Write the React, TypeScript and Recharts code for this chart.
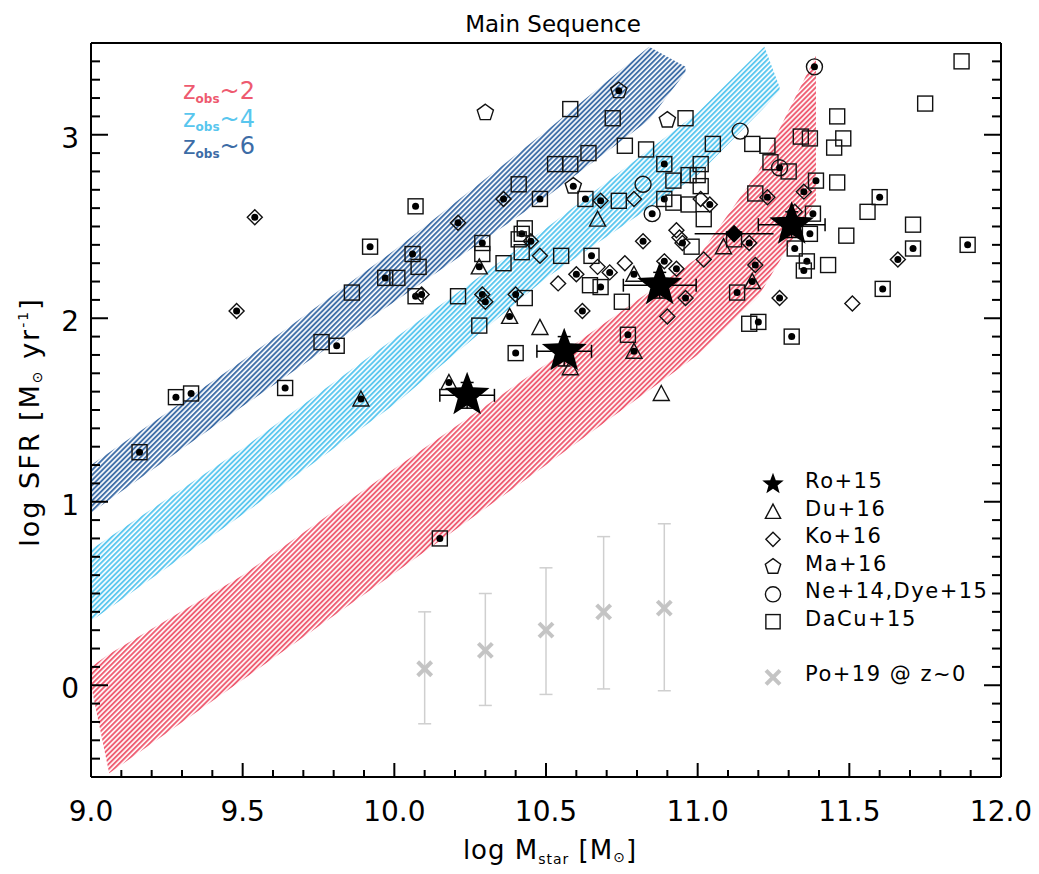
import React from "react";
import { Area, ComposedChart, ErrorBar, Scatter, XAxis, YAxis } from "recharts";

const FONT = "'DejaVu Sans', sans-serif";
const RED = "#ee5a6f";
const LIGHT = "#58c6ee";
const DARK = "#3c6ca6";
const GREY = "#c4c4c4";

// axis ticks
const xMajorTicks = [9.0, 9.5, 10.0, 10.5, 11.0, 11.5, 12.0];
const xTickLabels = ["9.0", "9.5", "10.0", "10.5", "11.0", "11.5", "12.0"];
const yMajorTicks = [0, 1, 2, 3];
const yTickLabels = ["0", "1", "2", "3"];
const xMinorTicks = Array.from({ length: 31 }, (_, i) => (90 + i) / 10);
const yMinorTicks = Array.from({ length: 41 }, (_, i) => (i - 5) / 10);

// model bands: [log M, low, high]
const bandZ2 = [
  [9.0, 0.0, 0.1],
  [9.06, -0.48, 0.17],
  [9.5, 0.03, 0.6],
  [10.0, 0.61, 1.18],
  [10.5, 1.2, 1.75],
  [11.0, 1.8, 2.33],
  [11.2, 2.12, 2.8],
  [11.39, 2.64, 3.43],
];
const bandZ4 = [
  [9.0, 0.35, 0.74],
  [9.5, 0.93, 1.29],
  [10.0, 1.53, 1.89],
  [10.5, 2.22, 2.49],
  [11.0, 2.78, 3.12],
  [11.22, 3.15, 3.48],
  [11.27, 3.24, 3.26],
];
const bandZ6 = [
  [9.0, 0.94, 1.2],
  [9.5, 1.52, 1.77],
  [10.0, 2.09, 2.37],
  [10.5, 2.66, 3.02],
  [10.84, 3.08, 3.48],
  [10.96, 3.34, 3.37],
];

// samples: [log M, log SFR, dot]
const daCu15 = [
  [9.92, 2.39, 1], [9.97, 2.22, 1], [10.01, 2.22, 0], [10.07, 2.61, 1], [9.86, 2.14, 0],
  [10.06, 2.35, 1], [10.08, 2.28, 0], [9.76, 1.87, 0], [9.81, 1.85, 1], [9.64, 1.62, 1],
  [9.28, 1.57, 1], [9.33, 1.59, 1], [9.16, 1.27, 1], [10.07, 2.12, 1], [10.21, 2.12, 0],
  [10.43, 2.11, 0], [10.28, 1.96, 0], [10.4, 1.81, 1], [10.75, 2.09, 0], [10.68, 2.17, 1],
  [10.77, 1.91, 1], [10.58, 3.14, 0], [10.72, 3.09, 0], [10.96, 3.09, 0], [10.76, 2.94, 0],
  [10.83, 2.92, 0], [11.05, 2.95, 0], [10.64, 2.9, 0], [10.53, 2.84, 0], [10.58, 2.84, 0],
  [10.41, 2.73, 0], [10.89, 2.84, 1], [11.01, 2.84, 0], [10.92, 2.75, 0], [10.97, 2.78, 0],
  [11.0, 2.78, 0], [11.01, 2.72, 0], [10.48, 2.65, 1], [10.63, 2.65, 1], [10.74, 2.64, 0],
  [10.89, 2.65, 1], [10.92, 2.63, 0], [10.97, 2.62, 0], [11.02, 2.54, 0], [10.29, 2.41, 1],
  [10.29, 2.35, 0], [10.36, 2.3, 0], [10.42, 2.46, 1], [10.43, 2.49, 0], [10.41, 2.43, 0],
  [10.42, 2.36, 0], [10.55, 2.34, 0], [10.65, 2.34, 1], [10.645, 2.18, 0], [10.98, 2.39, 0],
  [11.87, 3.4, 0], [11.75, 3.17, 0], [11.46, 3.1, 0], [11.48, 2.98, 0], [11.45, 2.93, 0],
  [11.34, 2.99, 0], [11.37, 2.98, 0], [11.18, 2.95, 0], [11.23, 2.94, 0], [11.24, 2.85, 0],
  [11.3, 2.8, 0], [11.39, 2.75, 1], [11.46, 2.74, 0], [11.19, 2.68, 0], [11.6, 2.66, 1],
  [11.56, 2.58, 0], [11.38, 2.57, 1], [11.37, 2.46, 1], [11.49, 2.45, 0], [11.71, 2.51, 0],
  [11.71, 2.38, 1], [11.89, 2.4, 1], [11.32, 2.38, 1], [11.36, 2.31, 1], [11.35, 2.26, 1],
  [11.43, 2.29, 0], [11.12, 2.43, 0], [11.13, 2.14, 1], [11.61, 2.16, 1], [11.17, 1.97, 0],
  [11.2, 1.98, 1], [11.31, 1.9, 1], [10.15, 0.8, 1],
];
const ko16 = [
  [9.54, 2.55, 1], [9.48, 2.04, 1], [10.09, 2.13, 1], [10.29, 2.13, 1], [10.3, 2.09, 1],
  [10.4, 2.13, 1], [10.62, 2.04, 1], [10.9, 2.01, 0], [10.96, 2.11, 1], [10.68, 2.64, 1],
  [10.79, 2.65, 0], [11.01, 2.65, 0], [11.04, 2.62, 1], [10.36, 2.65, 1], [10.21, 2.52, 1],
  [10.45, 2.42, 1], [10.48, 2.34, 0], [10.67, 2.28, 0], [10.71, 2.25, 1], [10.76, 2.3, 0],
  [10.6, 2.24, 1], [10.54, 2.19, 0], [10.93, 2.48, 0], [10.94, 2.44, 0], [10.95, 2.41, 1],
  [10.89, 2.31, 1], [11.02, 2.32, 0], [10.93, 2.27, 1], [10.82, 2.42, 1], [11.35, 2.69, 1],
  [11.23, 2.66, 1], [11.32, 2.58, 0], [11.66, 2.32, 1], [11.17, 2.41, 1], [11.19, 2.29, 1],
  [11.27, 2.11, 1], [11.51, 2.08, 0],
];
const du16 = [
  [9.89, 1.56, 1], [10.38, 2.01, 1], [10.48, 1.95, 0], [10.18, 1.65, 1], [10.58, 1.73, 0],
  [10.79, 1.82, 1], [10.88, 1.59, 0], [10.67, 2.54, 0], [10.28, 2.28, 1], [10.79, 2.24, 1],
  [11.085, 2.39, 0], [11.18, 2.2, 1],
];
const ma16 = [[10.74, 3.24, 1], [10.3, 3.12, 0], [10.9, 3.08, 0], [10.59, 2.72, 1]];
const ne14 = [[11.385, 3.37, 1], [11.14, 3.02, 0], [10.82, 2.73, 0], [10.85, 2.57, 1], [11.27, 2.82, 1]];

// Ro+15 with errors
const roM = [10.24, 10.56, 10.875, 11.31];
const roSfr = [1.58, 1.82, 2.18, 2.51];
const roMErr = [0.09, 0.09, 0.12, 0.11];
const roSfrErr = [0.07, 0.08, 0.07, 0.07];

// single filled diamond
const fdM = [11.12];
const fdSfr = [2.46];
const fdMErr = [0.13];

// Po+19 local relation
const poM = [10.1, 10.3, 10.5, 10.69, 10.89];
const poSfr = [0.09, 0.19, 0.3, 0.4, 0.42];
const poLow = [-0.21, -0.11, -0.05, -0.02, -0.03];
const poHigh = [0.4, 0.5, 0.64, 0.81, 0.88];

const toBand = (rows: number[][]) => rows.map(([x, lo, hi]) => ({ x, r: [lo, hi] }));
const toPts = (rows: number[][]) => rows.map(([x, y, d]) => ({ x, y, dot: d === 1 }));

const roData = roM.map((x, i) => ({ x, y: roSfr[i], ex: roMErr[i], ey: roSfrErr[i] }));
const fdData = fdM.map((x, i) => ({ x, y: fdSfr[i], ex: fdMErr[i] }));
const poData = poM.map((x, i) => ({ x, y: poSfr[i], ey: [poSfr[i] - poLow[i], poHigh[i] - poSfr[i]] }));

const majorIndex = (v: number, list: number[]) => list.findIndex((m) => Math.abs(m - v) < 1e-6);

const starPoints = (cx: number, cy: number, R: number, r: number) =>
  Array.from({ length: 10 }, (_, i) => {
    const a = -Math.PI / 2 + (i * Math.PI) / 5;
    const rad = i % 2 === 0 ? R : r;
    return `${cx + rad * Math.cos(a)},${cy + rad * Math.sin(a)}`;
  }).join(" ");

const pentPoints = (cx: number, cy: number, R: number) =>
  Array.from({ length: 5 }, (_, i) => {
    const a = -Math.PI / 2 + (i * 2 * Math.PI) / 5;
    return `${cx + R * Math.cos(a)},${cy + R * Math.sin(a)}`;
  }).join(" ");

const Dot = ({ cx, cy }: any) => <circle cx={cx} cy={cy} r={3.5} fill="#000" />;

function Mark({ kind, cx, cy, dot, s = 1 }: any) {
  const open = { fill: "none", stroke: "#111", strokeWidth: 1.4 };
  let body: any = null;
  if (kind === "square") body = <rect x={cx - 7.5 * s} y={cy - 7.5 * s} width={15 * s} height={15 * s} {...open} />;
  if (kind === "diamond")
    body = <polygon points={`${cx},${cy - 7.5 * s} ${cx + 7.5 * s},${cy} ${cx},${cy + 7.5 * s} ${cx - 7.5 * s},${cy}`} {...open} />;
  if (kind === "triangle")
    body = <polygon points={`${cx},${cy - 8 * s} ${cx + 8 * s},${cy + 7 * s} ${cx - 8 * s},${cy + 7 * s}`} {...open} />;
  if (kind === "pentagon") body = <polygon points={pentPoints(cx, cy, 8.5 * s)} {...open} />;
  if (kind === "circle") body = <circle cx={cx} cy={cy} r={8 * s} {...open} />;
  if (kind === "star") body = <polygon points={starPoints(cx, cy, 23.5 * s, 9.9 * s)} fill="#000" />;
  if (kind === "fdiamond")
    body = <polygon points={`${cx},${cy - 9} ${cx + 9},${cy} ${cx},${cy + 9} ${cx - 9},${cy}`} fill="#000" />;
  if (kind === "cross")
    body = (
      <g stroke={GREY} strokeWidth={4}>
        <line x1={cx - 7} y1={cy - 7} x2={cx + 7} y2={cy + 7} />
        <line x1={cx - 7} y1={cy + 7} x2={cx + 7} y2={cy - 7} />
      </g>
    );
  return (
    <g>
      {body}
      {dot && <Dot cx={cx} cy={cy} />}
    </g>
  );
}

const shapeOf = (kind: string) => (p: any) => <Mark kind={kind} cx={p.cx} cy={p.cy} dot={p.payload?.dot} />;

function BottomTick(p: any) {
  const i = majorIndex(p.payload.value, xMajorTicks);
  return (
    <g>
      <line x1={p.x} x2={p.x} y1={p.y} y2={p.y - (i >= 0 ? 14 : 7)} stroke="#000" strokeWidth={2} />
      {i >= 0 && (
        <text x={p.x} y={p.y + 44} textAnchor="middle" fontSize={28} fontFamily={FONT} fill="#000">
          {xTickLabels[i]}
        </text>
      )}
    </g>
  );
}
function TopTick(p: any) {
  const i = majorIndex(p.payload.value, xMajorTicks);
  return <line x1={p.x} x2={p.x} y1={p.y} y2={p.y + (i >= 0 ? 14 : 7)} stroke="#000" strokeWidth={2} />;
}
function LeftTick(p: any) {
  const i = majorIndex(p.payload.value, yMajorTicks);
  return (
    <g>
      <line x1={p.x} x2={p.x + (i >= 0 ? 17 : 9)} y1={p.y} y2={p.y} stroke="#000" strokeWidth={2} />
      {i >= 0 && (
        <text x={p.x - 12} y={p.y + 13} textAnchor="end" fontSize={28} fontFamily={FONT} fill="#000">
          {yTickLabels[i]}
        </text>
      )}
    </g>
  );
}
function RightTick(p: any) {
  const i = majorIndex(p.payload.value, yMajorTicks);
  return <line x1={p.x} x2={p.x - (i >= 0 ? 17 : 9)} y1={p.y} y2={p.y} stroke="#000" strokeWidth={2} />;
}

const legendRows = [
  { kind: "star", label: "Ro+15", y: 476 },
  { kind: "triangle", label: "Du+16", y: 503.7 },
  { kind: "diamond", label: "Ko+16", y: 531.3 },
  { kind: "pentagon", label: "Ma+16", y: 558.7 },
  { kind: "circle", label: "Ne+14,Dye+15", y: 586.3 },
  { kind: "square", label: "DaCu+15", y: 613.7 },
  { kind: "cross", label: "Po+19 @ z~0", y: 669.3 },
];
const zLegend = [
  { z: "2", color: RED, y: 91 },
  { z: "4", color: LIGHT, y: 119 },
  { z: "6", color: DARK, y: 146 },
];

const axisLine = { stroke: "#000", strokeWidth: 2 };

export default function App() {
  return (
    <ComposedChart width={1023} height={858} margin={{ top: 34, right: 29, bottom: 88, left: 82 }}>
      <defs>
        {[
          ["hRed", RED],
          ["hLight", LIGHT],
          ["hDark", DARK],
        ].map(([id, c]) => (
          <pattern key={id} id={id} patternUnits="userSpaceOnUse" width={3.6} height={3.6} patternTransform="rotate(45)">
            <line x1={1} y1={0} x2={1} y2={3.6} stroke={c} strokeWidth={1.9} />
          </pattern>
        ))}
      </defs>
      <XAxis
        xAxisId="b"
        dataKey="x"
        type="number"
        domain={[9, 12]}
        allowDataOverflow
        ticks={xMinorTicks}
        interval={0}
        height={1}
        tickSize={0}
        tickMargin={0}
        tickLine={false}
        axisLine={axisLine}
        tick={BottomTick}
      />
      <XAxis
        xAxisId="t"
        orientation="top"
        type="number"
        domain={[9, 12]}
        allowDataOverflow
        ticks={xMinorTicks}
        interval={0}
        height={1}
        tickSize={0}
        tickMargin={0}
        tickLine={false}
        axisLine={axisLine}
        tick={TopTick}
      />
      <YAxis
        yAxisId="l"
        dataKey="y"
        type="number"
        domain={[-0.5, 3.5]}
        allowDataOverflow
        ticks={yMinorTicks}
        interval={0}
        width={1}
        tickSize={0}
        tickMargin={0}
        tickLine={false}
        axisLine={axisLine}
        tick={LeftTick}
      />
      <YAxis
        yAxisId="r"
        orientation="right"
        type="number"
        domain={[-0.5, 3.5]}
        allowDataOverflow
        ticks={yMinorTicks}
        interval={0}
        width={1}
        tickSize={0}
        tickMargin={0}
        tickLine={false}
        axisLine={axisLine}
        tick={RightTick}
      />

      <Area xAxisId="b" yAxisId="l" data={toBand(bandZ2)} dataKey="r" type="linear" stroke="none" fill="url(#hRed)" fillOpacity={1} isAnimationActive={false} />
      <Area xAxisId="b" yAxisId="l" data={toBand(bandZ4)} dataKey="r" type="linear" stroke="none" fill="url(#hLight)" fillOpacity={1} isAnimationActive={false} />
      <Area xAxisId="b" yAxisId="l" data={toBand(bandZ6)} dataKey="r" type="linear" stroke="none" fill="url(#hDark)" fillOpacity={1} isAnimationActive={false} />

      <Scatter xAxisId="b" yAxisId="l" data={poData} dataKey="y" shape={shapeOf("cross")} isAnimationActive={false}>
        <ErrorBar dataKey="ey" direction="y" width={6.5} stroke="#cfcfcf" strokeWidth={1.5} isAnimationActive={false} />
      </Scatter>
      <Scatter xAxisId="b" yAxisId="l" data={toPts(daCu15)} dataKey="y" shape={shapeOf("square")} isAnimationActive={false} />
      <Scatter xAxisId="b" yAxisId="l" data={toPts(ko16)} dataKey="y" shape={shapeOf("diamond")} isAnimationActive={false} />
      <Scatter xAxisId="b" yAxisId="l" data={toPts(du16)} dataKey="y" shape={shapeOf("triangle")} isAnimationActive={false} />
      <Scatter xAxisId="b" yAxisId="l" data={toPts(ma16)} dataKey="y" shape={shapeOf("pentagon")} isAnimationActive={false} />
      <Scatter xAxisId="b" yAxisId="l" data={toPts(ne14)} dataKey="y" shape={shapeOf("circle")} isAnimationActive={false} />
      <Scatter xAxisId="b" yAxisId="l" data={fdData} dataKey="y" shape={shapeOf("fdiamond")} isAnimationActive={false}>
        <ErrorBar dataKey="ex" direction="x" width={0} stroke="#000" strokeWidth={1.5} isAnimationActive={false} />
      </Scatter>
      <Scatter xAxisId="b" yAxisId="l" data={roData} dataKey="y" shape={shapeOf("star")} isAnimationActive={false}>
        <ErrorBar dataKey="ex" direction="x" width={6.5} stroke="#000" strokeWidth={1.5} isAnimationActive={false} />
        <ErrorBar dataKey="ey" direction="y" width={6.5} stroke="#000" strokeWidth={1.5} isAnimationActive={false} />
      </Scatter>

      <text x={545} y={24} textAnchor="middle" fontSize={23} fontFamily={FONT} fill="#000">
        Main Sequence
      </text>
      <text x={542} y={851} textAnchor="middle" fontSize={26} fontFamily={FONT} fill="#000" letterSpacing={1}>
        log M
        <tspan fontSize={14} dy={5}>star</tspan>
        <tspan dy={-5}> [M</tspan>
        <tspan fontSize={14} dy={3}>⊙</tspan>
        <tspan dy={-3}>]</tspan>
      </text>
      <text
        x={0}
        y={0}
        transform="translate(31 414) rotate(-90)"
        textAnchor="middle"
        fontSize={27}
        fontFamily={FONT}
        fill="#000"
        letterSpacing={2}
      >
        log SFR [M
        <tspan fontSize={14} dy={3}>⊙</tspan>
        <tspan dy={-3}> yr</tspan>
        <tspan fontSize={14} dy={-11}>-1</tspan>
        <tspan dy={11}>]</tspan>
      </text>

      {zLegend.map((r) => (
        <text key={r.z} x={175} y={r.y} fontSize={24} fontFamily={FONT} fill={r.color}>
          z
          <tspan fontSize={12} fontWeight="bold" dy={4}>obs</tspan>
          <tspan dy={-4}>~{r.z}</tspan>
        </text>
      ))}

      {legendRows.map((r) => (
        <g key={r.label}>
          <Mark kind={r.kind} cx={765} cy={r.y} s={r.kind === "star" ? 0.48 : 0.95} />
          <text x={797} y={r.y + 4} fontSize={21} fontFamily={FONT} fill="#000" letterSpacing={1.5}>
            {r.label}
          </text>
        </g>
      ))}
    </ComposedChart>
  );
}
